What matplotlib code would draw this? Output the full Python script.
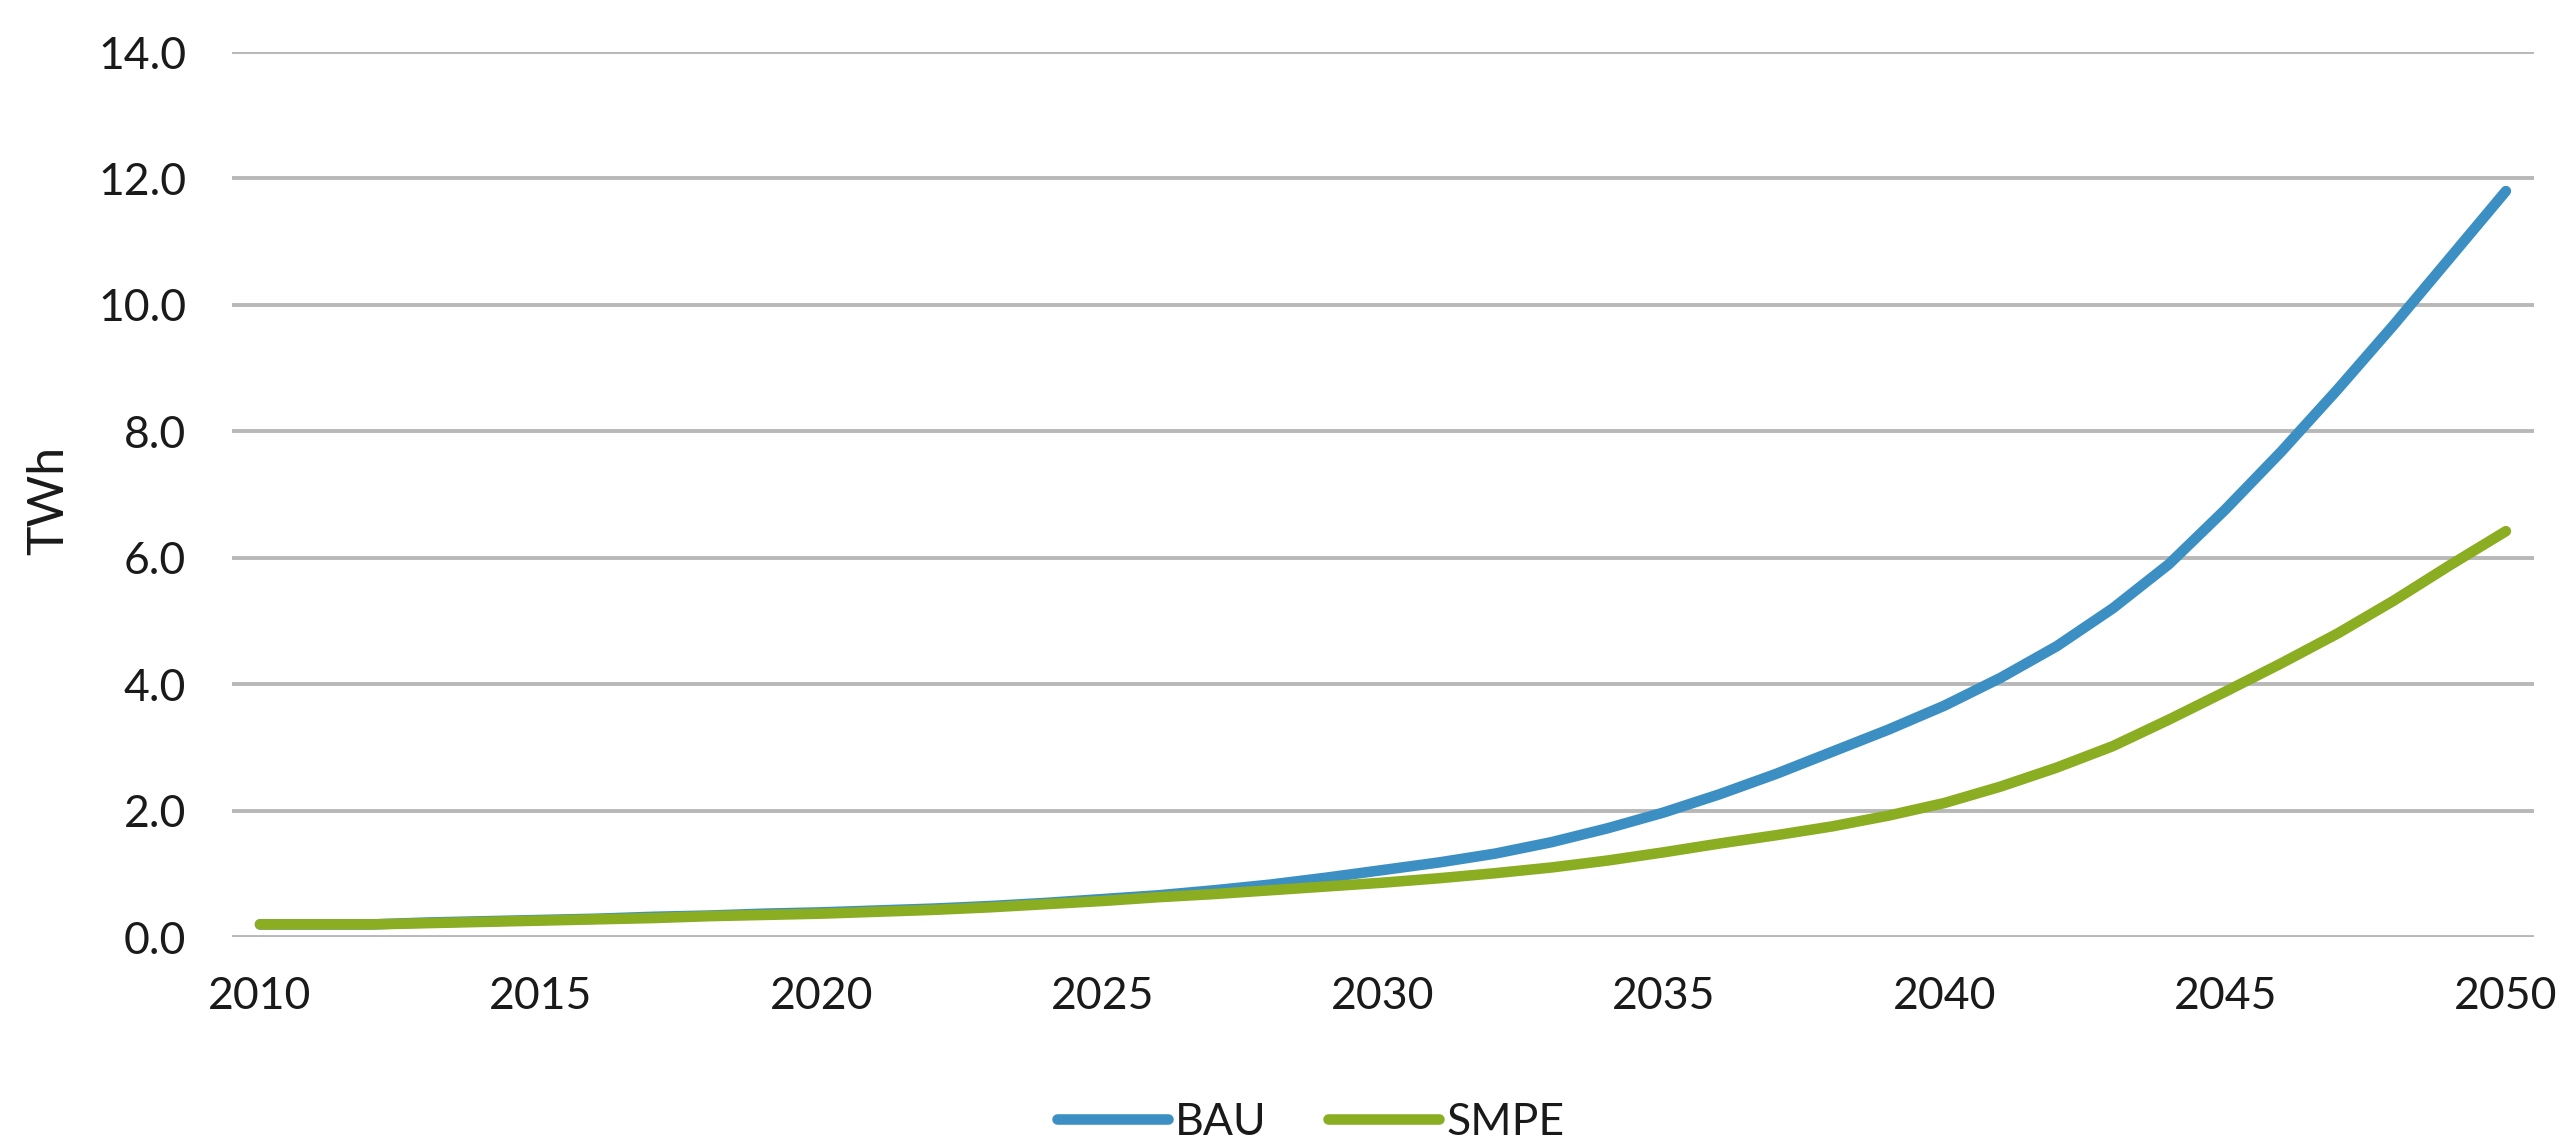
import matplotlib
matplotlib.use("Agg")
import matplotlib.pyplot as plt

# Annual electricity demand projections, 2010-2050 (TWh)
years = list(range(2010, 2051))
bau = [0.20, 0.20, 0.20, 0.23, 0.25, 0.27, 0.29, 0.32, 0.34, 0.37,
       0.39, 0.42, 0.45, 0.49, 0.54, 0.60, 0.66, 0.74, 0.83, 0.94,
       1.06, 1.18, 1.32, 1.50, 1.72, 1.97, 2.26, 2.58, 2.93, 3.28,
       3.66, 4.10, 4.60, 5.20, 5.90, 6.76, 7.68, 8.66, 9.68, 10.74,
       11.80]
smpe = [0.20, 0.20, 0.20, 0.22, 0.24, 0.26, 0.28, 0.30, 0.33, 0.35,
        0.37, 0.40, 0.43, 0.47, 0.52, 0.57, 0.63, 0.68, 0.74, 0.80,
        0.86, 0.93, 1.01, 1.10, 1.21, 1.34, 1.48, 1.61, 1.75, 1.92,
        2.12, 2.38, 2.68, 3.02, 3.44, 3.88, 4.33, 4.80, 5.32, 5.88,
        6.42]
series_names = ["BAU", "SMPE"]
series_colors = ["#3b8fc2", "#8aad22"]
x_ticks = [2010, 2015, 2020, 2025, 2030, 2035, 2040, 2045, 2050]
y_ticks = [0, 2, 4, 6, 8, 10, 12, 14]

plt.rcParams["font.family"] = ["Lato", "DejaVu Sans"]

fig = plt.figure(figsize=(25.71, 11.38), dpi=100)
ax = fig.add_axes([0.0902, 0.1766, 0.8954, 0.7777])

for vals, name, col in zip([bau, smpe], series_names, series_colors):
    ax.plot(years, vals, color=col, lw=7.6, label=name,
            solid_capstyle="round", solid_joinstyle="round", zorder=3)

ax.set_xlim(2009.5, 2050.5)
ax.set_ylim(0, 14)
ax.set_xticks(x_ticks)
ax.set_yticks(y_ticks)
ax.set_yticklabels([f"{v:.1f}" for v in y_ticks])
ax.tick_params(axis="both", length=0, labelsize=32, colors="#1a1a1a")
ax.tick_params(axis="y", pad=33)
ax.tick_params(axis="x", pad=28)

ax.grid(axis="y", color="#b8b8b8", lw=2.8, zorder=0)
ax.set_axisbelow(True)
for s in ax.spines.values():
    s.set_visible(False)

fig.text(0.019, 1 - 500 / 1138, "TWh", rotation=90, ha="center",
         va="center", fontsize=36, color="#1a1a1a")

handles, labels = ax.get_legend_handles_labels()
fig.legend(handles, labels, loc="center", bbox_to_anchor=(0.5097, 0.014),
           ncol=2, frameon=False, fontsize=32, handlelength=2.5,
           handletextpad=0.15, columnspacing=1.4, borderpad=0,
           labelcolor="#1a1a1a")

fig.savefig("out.png", dpi=100, facecolor="white")
